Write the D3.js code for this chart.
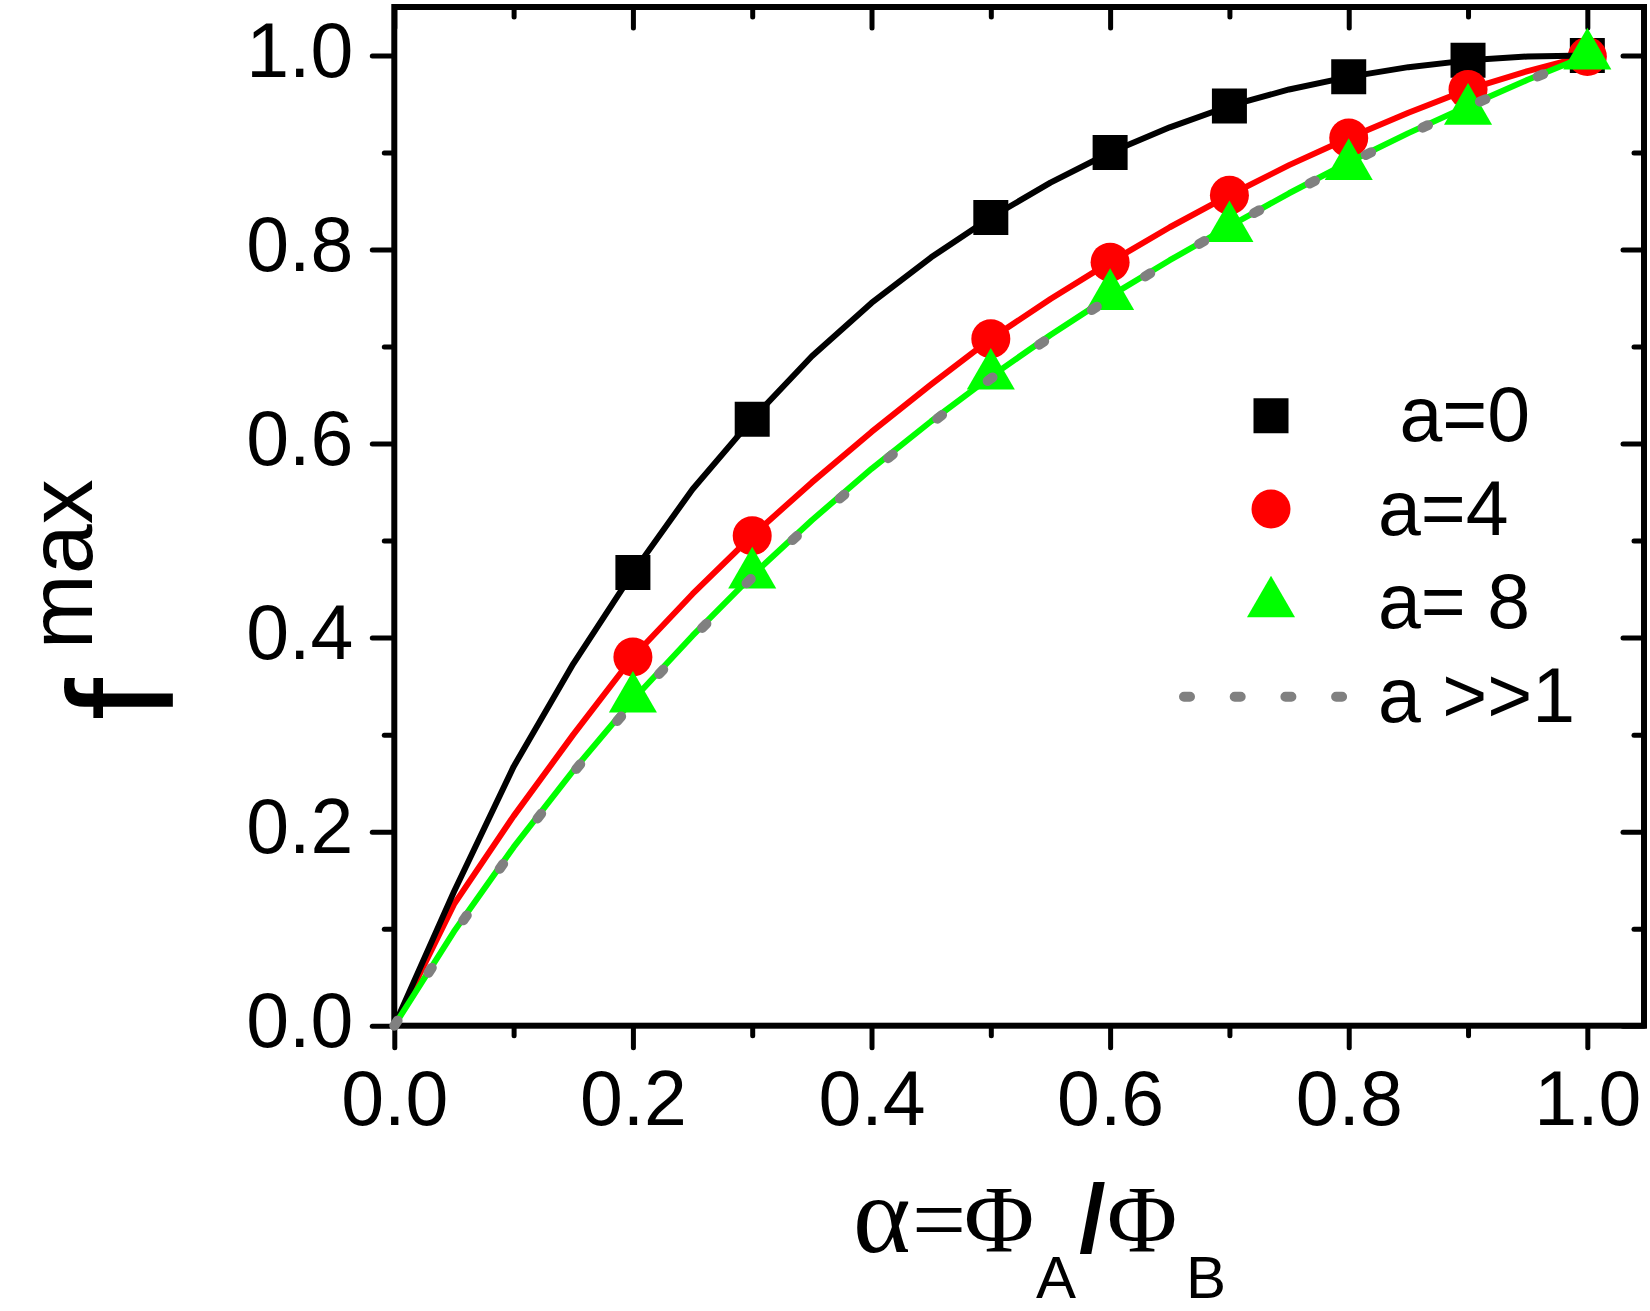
<!DOCTYPE html>
<html>
<head>
<meta charset="utf-8">
<script src="https://cdn.jsdelivr.net/npm/d3@7/dist/d3.min.js"></script>
<style>
  html, body { margin: 0; padding: 0; background: #fff; }
  svg { display: block; }
  text { font-family: "Liberation Sans", Arial, sans-serif; }
</style>
</head>
<body>
<svg id="chart" width="1650" height="1311"></svg>
<script>
// ---------------- data ----------------
const lineX = [0, 0.05, 0.1, 0.15, 0.2, 0.25, 0.3, 0.35, 0.4, 0.45, 0.5, 0.55, 0.6, 0.65, 0.7, 0.75, 0.8, 0.85, 0.9, 0.95, 1.0];
const lineA0  = [0, 0.138, 0.267, 0.373, 0.467, 0.553, 0.625, 0.690, 0.745, 0.792, 0.833, 0.869, 0.900, 0.926, 0.948, 0.965, 0.978, 0.988, 0.995, 0.999, 1.0];
const lineA4  = [0, 0.125, 0.216, 0.300, 0.380, 0.445, 0.505, 0.560, 0.612, 0.661, 0.708, 0.749, 0.787, 0.823, 0.856, 0.887, 0.915, 0.941, 0.965, 0.984, 1.0];
const lineA8  = [0, 0.097, 0.184, 0.263, 0.336, 0.402, 0.464, 0.521, 0.574, 0.623, 0.669, 0.712, 0.752, 0.789, 0.824, 0.858, 0.890, 0.920, 0.948, 0.975, 1.0];
const lineInf = [0, 0.095, 0.182, 0.261, 0.333, 0.400, 0.462, 0.519, 0.571, 0.621, 0.667, 0.710, 0.750, 0.788, 0.824, 0.857, 0.889, 0.919, 0.947, 0.974, 1.0];

const markerX = [0.2, 0.3, 0.5, 0.6, 0.7, 0.8, 0.9, 1.0];
const markA0 = [0.467, 0.625, 0.833, 0.900, 0.948, 0.978, 0.995, 1.000];
const markA4 = [0.380, 0.505, 0.708, 0.787, 0.856, 0.915, 0.965, 0.999];
const markA8 = [0.337, 0.465, 0.670, 0.752, 0.822, 0.886, 0.943, 1.000];

const legendLabels = [" a=0", "a=4", "a= 8", "a >>1"];
const majorTicks = [0, 0.2, 0.4, 0.6, 0.8, 1.0];
const minorTicks = [0.1, 0.3, 0.5, 0.7, 0.9];
const xDomain = [0, 1.0475];
const yDomain = [0, 1.05];

// ---------------- layout ----------------
const svg = d3.select("#chart");
const L = 394.3, R = 1644, T = 7, B = 1025.7;
const x = d3.scaleLinear().domain(xDomain).range([L, R]);
const y = d3.scaleLinear().domain(yDomain).range([B, T]);
const fmt = d3.format(".1f");
const TICKFONT = 77;
const SANS = "Liberation Sans, Arial, sans-serif";
const SERIF = "Liberation Serif, Times New Roman, serif";

function styleAxis(g) {
  g.select(".domain").remove();
  g.selectAll(".tick line").attr("stroke", "#000").attr("stroke-width", 5).attr("stroke-linecap", "round");
}

// bottom axis
const gB = svg.append("g").attr("transform", `translate(0,${B})`);
gB.call(d3.axisBottom(x).tickValues(majorTicks).tickSize(22).tickFormat(fmt)).call(styleAxis);
gB.selectAll(".tick text").attr("y", 99).attr("dy", 0).attr("font-size", TICKFONT)
  .attr("font-family", SANS).attr("fill", "#000");
svg.append("g").attr("transform", `translate(0,${B})`)
  .call(d3.axisBottom(x).tickValues(minorTicks).tickSize(10).tickFormat("")).call(styleAxis);
// top axis (inward)
svg.append("g").attr("transform", `translate(0,${T})`)
  .call(d3.axisTop(x).tickValues(majorTicks).tickSize(-21).tickFormat("")).call(styleAxis);
svg.append("g").attr("transform", `translate(0,${T})`)
  .call(d3.axisTop(x).tickValues(minorTicks).tickSize(-10).tickFormat("")).call(styleAxis);
// left axis
const gL = svg.append("g").attr("transform", `translate(${L},0)`);
gL.call(d3.axisLeft(y).tickValues(majorTicks).tickSize(22).tickFormat(fmt)).call(styleAxis);
gL.selectAll(".tick text").attr("x", -41).attr("dy", 21).attr("font-size", TICKFONT)
  .attr("font-family", SANS).attr("fill", "#000");
svg.append("g").attr("transform", `translate(${L},0)`)
  .call(d3.axisLeft(y).tickValues(minorTicks).tickSize(10).tickFormat("")).call(styleAxis);
// right axis (inward)
svg.append("g").attr("transform", `translate(${R},0)`)
  .call(d3.axisRight(y).tickValues(majorTicks).tickSize(-21).tickFormat("")).call(styleAxis);
svg.append("g").attr("transform", `translate(${R},0)`)
  .call(d3.axisRight(y).tickValues(minorTicks).tickSize(-10).tickFormat("")).call(styleAxis);

// frame
svg.append("rect").attr("x", L).attr("y", T).attr("width", R - L).attr("height", B - T)
  .attr("fill", "none").attr("stroke", "#000").attr("stroke-width", 6);

// ---------------- series ----------------
const line = d3.line().x(d => x(d[0])).y(d => y(d[1]));
const pairs = ys => lineX.map((v, i) => [v, ys[i]]);
const mpairs = ys => markerX.map((v, i) => [v, ys[i]]);

const plot = svg.append("g");
const symSquare = d3.symbol().type(d3.symbolSquare).size(1225);
const symCircle = d3.symbol().type(d3.symbolCircle).size(1195);
const symTri = d3.symbol().type(d3.symbolTriangle).size(1000);

function drawMarkers(ys, sym, color) {
  plot.append("g").selectAll("path").data(mpairs(ys)).join("path")
    .attr("d", sym).attr("fill", color)
    .attr("transform", d => `translate(${x(d[0])},${y(d[1])})`);
}
function drawLine(ys, color) {
  plot.append("path").datum(pairs(ys)).attr("d", line)
    .attr("fill", "none").attr("stroke", color).attr("stroke-width", 6).attr("stroke-linejoin", "round");
}

drawMarkers(markA0, symSquare, "#000");
drawLine(lineA4, "#ff0000");
drawMarkers(markA4, symCircle, "#ff0000");
drawLine(lineA0, "#000");
drawLine(lineA8, "#00ff00");
drawMarkers(markA8, symTri, "#00ff00");
plot.append("path").datum(pairs(lineInf)).attr("d", line)
  .attr("fill", "none").attr("stroke", "#808080").attr("stroke-width", 10)
  .attr("stroke-linecap", "round").attr("stroke-dasharray", "6 57");

// ---------------- legend ----------------
const lg = svg.append("g");
const symX = 1271;
lg.append("path").attr("d", symSquare).attr("fill", "#000").attr("transform", `translate(${symX},415.7)`);
lg.append("path").attr("d", symCircle).attr("fill", "#ff0000").attr("transform", `translate(${symX},509)`);
lg.append("path").attr("d", symTri).attr("fill", "#00ff00").attr("transform", `translate(${symX},603.4)`);
lg.append("line").attr("x1", 1184).attr("x2", 1346).attr("y1", 696.7).attr("y2", 696.7)
  .attr("stroke", "#808080").attr("stroke-width", 10).attr("stroke-linecap", "round")
  .attr("stroke-dasharray", "6 44.7");
const baselines = [440.7, 535, 628.3, 722.3];
lg.selectAll("text.leg").data(legendLabels).join("text").attr("class", "leg")
  .attr("x", 1378).attr("y", (d, i) => baselines[i])
  .attr("font-size", TICKFONT).attr("fill", "#000")
  .style("white-space", "pre").attr("xml:space", "preserve")
  .text(d => d);

// ---------------- axis titles ----------------
const xt = svg.append("text").attr("y", 1252).attr("fill", "#000");
xt.append("tspan").attr("x", 853).attr("font-family", SERIF).attr("font-size", 110).text("α");
xt.append("tspan").attr("x", 912).attr("font-family", SERIF).attr("font-size", 96).text("=");
xt.append("tspan").attr("x", 964).attr("font-family", SERIF).attr("font-size", 96).text("Φ");
xt.append("tspan").attr("x", 1036).attr("y", 1298).attr("font-family", SANS).attr("font-size", 60).text("A");
xt.append("tspan").attr("x", 1079).attr("y", 1252).attr("font-family", SANS).attr("font-weight", "bold").attr("font-size", 96).text("/");
xt.append("tspan").attr("x", 1107).attr("font-family", SERIF).attr("font-size", 96).text("Φ");
xt.append("tspan").attr("x", 1186).attr("y", 1298).attr("font-family", SANS).attr("font-size", 60).text("B");

const yt = svg.append("text").attr("transform", "translate(173,720) rotate(-90)").attr("fill", "#000")
  .attr("font-family", SANS);
yt.append("tspan").attr("font-size", 150).text("f");
yt.append("tspan").attr("font-size", 90).attr("dy", -81).attr("dx", 29).text("max");
</script>
</body>
</html>
